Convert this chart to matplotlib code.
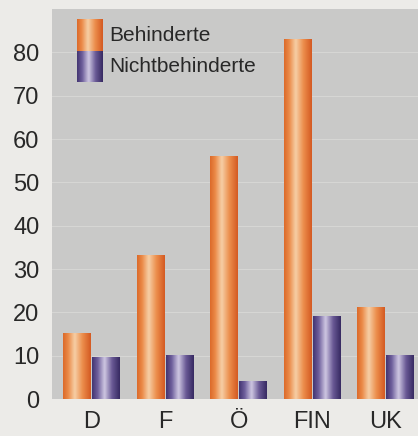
import numpy as np
import matplotlib
matplotlib.use('Agg')
import matplotlib.pyplot as plt
from matplotlib.colors import LinearSegmentedColormap

laender = ['D', 'F', 'Ö', 'FIN', 'UK']
behinderte = [15, 33, 56, 83, 21]
nichtbehinderte = [9.5, 10, 4, 19, 10]
y_ticks = [0, 10, 20, 30, 40, 50, 60, 70, 80]

plt.rcParams['font.family'] = ['Liberation Sans', 'DejaVu Sans']

orange_cm = LinearSegmentedColormap.from_list(
    'orange', [(0, '#dc6a2a'), (0.18, '#eb8a48'), (0.42, '#f6cfa6'),
               (0.7, '#ec8e4c'), (1, '#d45a22')])
purple_cm = LinearSegmentedColormap.from_list(
    'purple', [(0, '#433572'), (0.2, '#6e5f9c'), (0.45, '#cfc8e2'),
               (0.72, '#6a5a96'), (1, '#372a62')])
grad = np.linspace(0, 1, 64).reshape(1, -1)

fig = plt.figure(figsize=(4.18, 4.36), dpi=100, facecolor='#ecebe8')
ax = fig.add_axes((52 / 418, 37 / 436, 366 / 418, 390 / 436))
ax.set_facecolor('#c9c9c8')

x = np.arange(len(laender))
w = 0.374
off = 0.197
bars_b = ax.bar(x - off, behinderte, w, color='#e8803e', zorder=2)
bars_n = ax.bar(x + off, nichtbehinderte, w, color='#5a4a88', zorder=2)

# Zylinder-Verlauf auf jeden Balken legen
for bars, cm in [(bars_b, orange_cm), (bars_n, purple_cm)]:
    for p in bars:
        x0, h, bw = p.get_x(), p.get_height(), p.get_width()
        ax.imshow(grad, cmap=cm, extent=(x0, x0 + bw, 0, h), aspect='auto',
                  interpolation='bicubic', zorder=3)

ax.set_yticks(y_ticks)
ax.set_xticks(x, laender)
for y in y_ticks[1:]:
    ax.axhline(y, color='#d6d6d4', lw=0.8, zorder=1)
ax.tick_params(length=0, labelsize=17, colors='#282828', pad=9)
ax.tick_params(axis='x', pad=8.5)
for s in ax.spines.values():
    s.set_visible(False)

# Legende mit Verlaufsfeldern
for i, (lab, cm) in enumerate([('Behinderte', orange_cm), ('Nichtbehinderte', purple_cm)]):
    y1 = 1 - (11 / 390) - i * 31 / 390
    y0 = y1 - 31 / 390
    ax.imshow(grad, cmap=cm, extent=(25 / 366, 51 / 366, y0, y1), transform=ax.transAxes,
              aspect='auto', interpolation='bicubic', zorder=4)
    ax.text(57 / 366, (y0 + y1) / 2, lab, transform=ax.transAxes, fontsize=15,
            color='#282828', va='center', ha='left', zorder=4)

ax.set_xlim(-0.537, 4.44)
ax.set_ylim(0, 90)

fig.savefig('out.png', dpi=100, facecolor=fig.get_facecolor())
